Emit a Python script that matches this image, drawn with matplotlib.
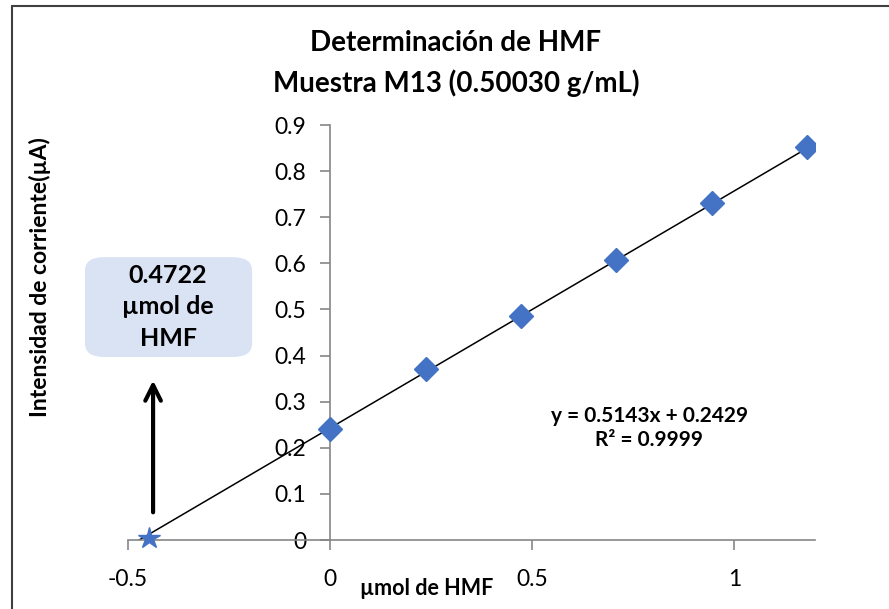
import numpy as np
import matplotlib.pyplot as plt
from matplotlib.patches import Rectangle, FancyBboxPatch

plt.rcParams['font.family'] = ['Lato', 'DejaVu Sans']

# calibration data
conc = [0.0, 0.236, 0.472, 0.708, 0.944, 1.180]
current = [0.240, 0.370, 0.486, 0.608, 0.730, 0.853]
slope, intercept = 0.5143, 0.2429
line_start = -0.4722
# sample marker as drawn on the chart
star_x, star_y = -0.447, 0.005
x_ticks = [-0.5, 0, 0.5, 1]
y_ticks = [0, 0.1, 0.2, 0.3, 0.4, 0.5, 0.6, 0.7, 0.8, 0.9]

fig = plt.figure(figsize=(8.89, 6.09), dpi=100)
ax = fig.add_axes([0.144, 0.1133, 0.773, 0.6814])

# outer chart border
fig.patches.append(Rectangle((0.014, -0.01), 1.0, 1.0, transform=fig.transFigure,
                             fill=False, edgecolor='#404040', lw=1.5))

gray = '#868686'
blue = '#4472C4'

# trend line from the sample point to the last standard
xl = np.array([line_start, conc[-1]])
ax.plot(xl, slope * xl + intercept, color='black', lw=1.1, zorder=2)
ax.plot(conc, current, 'D', color=blue, markersize=12, zorder=3)
ax.plot([star_x], [star_y], '*', color=blue, markersize=16, zorder=3, clip_on=False)

ax.set_xlim(-0.5, 1.2)
ax.set_ylim(0, 0.9)
ax.set_xticks(x_ticks)
ax.set_xticklabels(['-0.5', '0', '0.5', '1'])
ax.set_yticks(y_ticks)
ax.set_yticklabels(['0', '0.1', '0.2', '0.3', '0.4', '0.5', '0.6', '0.7', '0.8', '0.9'])

ax.spines['left'].set_position(('data', 0))
ax.spines['top'].set_visible(False)
ax.spines['right'].set_visible(False)
for s in ['left', 'bottom']:
    ax.spines[s].set_color(gray)
    ax.spines[s].set_linewidth(1.2)
ax.tick_params(axis='both', colors=gray, length=7, width=1.2, labelsize=16.5,
               labelcolor='black', direction='out')
ax.tick_params(axis='x', pad=14)
ax.tick_params(axis='y', pad=10)

fig.text(0.513, 0.929, 'Determinación de HMF', ha='center', va='center',
         fontsize=20, fontweight='bold')
fig.text(0.513, 0.864, 'Muestra M13 (0.50030 g/mL)', ha='center', va='center',
         fontsize=20, fontweight='bold')

fig.text(0.045, 0.545, 'Intensidad de corriente(µA)', rotation=90, ha='center',
         va='center', fontsize=16.5, fontweight='bold')
fig.text(0.480, 0.034, 'µmol de HMF', ha='center', va='center',
         fontsize=15.5, fontweight='bold')

ax.text(0.79, 0.243, 'y = 0.5143x + 0.2429\nR² = 0.9999', ha='center', va='center',
        fontsize=15, fontweight='bold', linespacing=1.3)

# annotation box with the result
box = FancyBboxPatch((0.0956, 0.4138), 0.188, 0.164, transform=fig.transFigure,
                     boxstyle='round,pad=0,rounding_size=0.022',
                     facecolor='#DAE3F3', edgecolor='none')
fig.patches.append(box)
fig.text(0.189, 0.496, '0.4722\nµmol de\nHMF', ha='center', va='center',
         fontsize=18, fontweight='bold', linespacing=1.45)

ax.annotate('', xy=(-0.438, 0.352), xytext=(-0.438, 0.054),
            arrowprops=dict(arrowstyle='->', color='black', lw=3,
                            mutation_scale=28), annotation_clip=False)

fig.savefig('out.png', dpi=100)
